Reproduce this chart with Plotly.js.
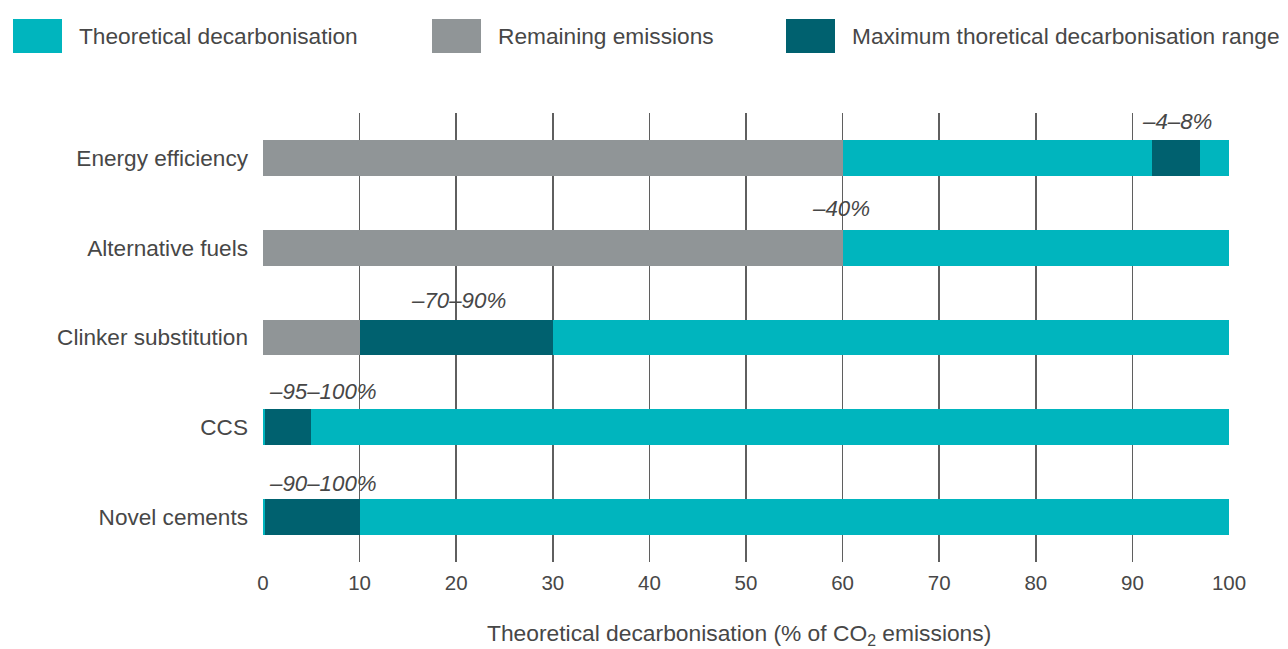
<!DOCTYPE html>
<html>
<head>
<meta charset="utf-8">
<script src="https://cdn.plot.ly/plotly-3.0.1.min.js"></script>
<style>html,body{margin:0;padding:0;background:#fff;}#chart{width:1288px;height:649px;}</style>
</head>
<body>
<div id="chart"></div>
<script>
// ---- Data ----
const categories = ["Energy efficiency", "Alternative fuels", "Clinker substitution", "CCS", "Novel cements"];
const remainingEmissions = [60, 60, 10, 0, 0];
const theoreticalFirst = [32, 40, 0, 0.2, 0.2];
const maxRange = [5, 0, 20, 4.8, 9.8];
const theoreticalSecond = [3, 0, 70, 95, 90];
const rangeLabels = ["\u20134\u20138%", "\u201340%", "\u201370\u201390%", "\u201395\u2013100%", "\u201390\u2013100%"];
const labelX = [94.6, 59.8, 20.2, 6.2, 6.2];
const legendNames = ["Theoretical decarbonisation", "Remaining emissions", "Maximum thoretical decarbonisation range"];
const xTicks = [0, 10, 20, 30, 40, 50, 60, 70, 80, 90, 100];
const xTitle = "Theoretical decarbonisation (% of CO<sub>2</sub> emissions)";

// ---- Styles ----
const TEAL = "#00b5be", GREY = "#909597", DARK = "#00616f", TXT = "#474747";
const FONT = "Liberation Sans, Arial, sans-serif";
const W = 1288, H = 649;
const M = {l: 263, r: 59, t: 113, b: 87};
const PW = W - M.l - M.r, PH = H - M.t - M.b;
const px = x => (x - M.l) / PW;
const py = y => (H - M.b - y) / PH;
const labelShift = [36, 39, 37, 36, 34];

function barTrace(vals, color, name) {
  return {type: "bar", orientation: "h", y: categories, x: vals, name: name,
    marker: {color: color, line: {width: 0}}, showlegend: false, hoverinfo: "x+y"};
}
const data = [
  barTrace(remainingEmissions, GREY, legendNames[1]),
  barTrace(theoreticalFirst, TEAL, legendNames[0]),
  barTrace(maxRange, DARK, legendNames[2]),
  barTrace(theoreticalSecond, TEAL, legendNames[0])
];

const annotations = categories.map((c, i) => ({
  x: labelX[i], y: c, xref: "x", yref: "y", text: rangeLabels[i], showarrow: false,
  yshift: labelShift[i], xanchor: "center", yanchor: "middle",
  font: {family: FONT, size: 22.3, color: TXT, style: "italic"}
}));

// legend (drawn swatches)
const legendColors = [TEAL, GREY, DARK];
const legendX = [13, 432, 786];
const shapes = [];
legendX.forEach((lx, i) => {
  shapes.push({type: "rect", xref: "paper", yref: "paper", x0: px(lx), x1: px(lx + 49),
    y0: py(53), y1: py(19), fillcolor: legendColors[i], line: {width: 0}});
  annotations.push({xref: "paper", yref: "paper", x: px(lx + 64), y: py(36), text: legendNames[i],
    showarrow: false, xanchor: "left", yanchor: "middle",
    font: {family: FONT, size: 22.7, color: TXT}});
});

// x-axis title placed as annotation for exact position
annotations.push({xref: "paper", yref: "paper", x: px(738.5), y: py(634), text: xTitle,
  showarrow: false, xanchor: "center", yanchor: "middle",
  font: {family: FONT, size: 22.8, color: TXT}});

const layout = {
  width: W, height: H, margin: M,
  paper_bgcolor: "#fff", plot_bgcolor: "#fff",
  barmode: "stack", bargap: 0.6, showlegend: false,
  font: {family: FONT, color: TXT, size: 22},
  xaxis: {range: [0, 100], tickvals: xTicks, showgrid: true, gridcolor: "#5f5f5f", gridwidth: 1.5,
    zeroline: false, showline: false, ticks: "", ticklabelstandoff: 6, automargin: false,
    tickfont: {family: FONT, size: 20.5, color: TXT}, fixedrange: true},
  yaxis: {type: "category", categoryorder: "array", categoryarray: categories, range: [4.5, -0.5],
    showgrid: false, zeroline: false, showline: false, ticks: "", ticklabelstandoff: 14, automargin: false,
    tickfont: {family: FONT, size: 22.6, color: TXT}, fixedrange: true},
  shapes: shapes, annotations: annotations
};

Plotly.newPlot("chart", data, layout, {displayModeBar: false, staticPlot: true});
</script>
</body>
</html>
